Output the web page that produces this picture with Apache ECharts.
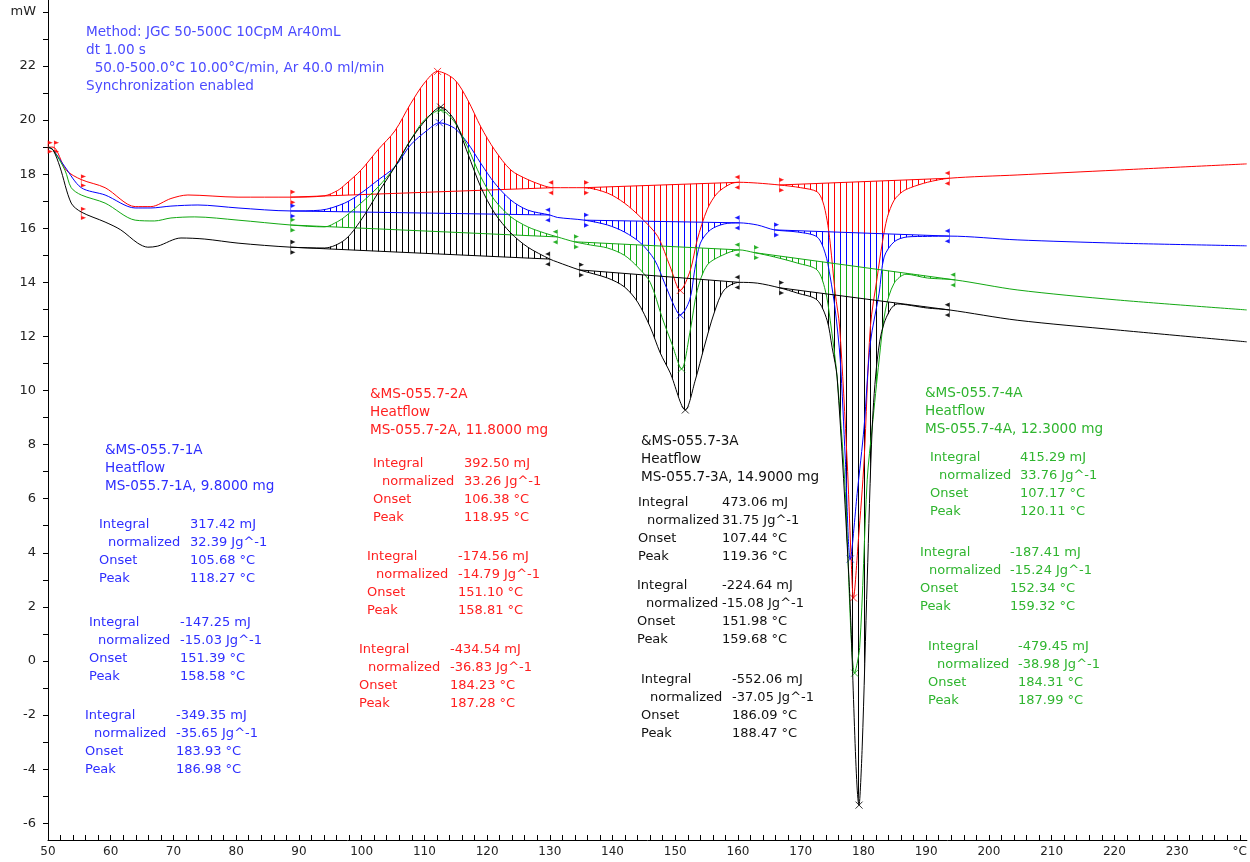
<!DOCTYPE html>
<html><head><meta charset="utf-8">
<script src="https://cdn.jsdelivr.net/npm/echarts/dist/echarts.min.js"></script>
<style>html,body{margin:0;padding:0;background:#fff}#c{width:1250px;height:862px}</style>
</head><body><div id="c"></div>
<script>
// ---------- DATA ----------
const redCurve = [[50,19],[50.8,19],[52.9,18.15],[55.3,17.8],[59.1,17.5],[63.9,16.8],[66.4,16.8],[69.6,17.1],[72.3,17.23],[80.3,17.15],[88.7,17.15],[94.1,17.2],[96.2,17.4],[97.3,17.6],[99.9,18.15],[102.6,18.9],[105.3,19.6],[107.8,20.6],[110,21.37],[112.1,21.8],[114.8,21.5],[116.9,20.75],[119,19.75],[121.2,18.9],[123.8,18.15],[126.5,17.8],[129.2,17.56],[130.5,17.5],[135.5,17.5],[139.2,17.3],[141.9,16.93],[144.5,16.4],[147.2,15.7],[149.2,14.57],[150.8,13.7],[152.4,14.45],[153.5,15.57],[155.1,16.7],[156.7,17.3],[158.8,17.64],[160.2,17.7],[163.1,17.67],[166.6,17.6],[170,17.5],[172.6,17.35],[173.5,17.0],[174.2,16.3],[174.7,15.45],[175.5,13.6],[176.2,12.35],[177.4,7.4],[178,4.0],[178.4,2.33],[179.2,4.5],[180.1,7.4],[181.1,12.35],[182.2,14.2],[183,15.45],[183.8,16.4],[184.9,17.04],[186.2,17.35],[187.5,17.5],[190.2,17.7],[193.7,17.85],[204.5,17.97],[220.4,18.15],[241.1,18.38]];
const blueCurve = [[50,19],[50.8,18.9],[52.7,18.27],[55.3,17.5],[59.1,17.23],[63.9,16.75],[66.4,16.75],[69.6,16.82],[73.9,16.86],[80.3,16.75],[88.7,16.64],[93.5,16.67],[97.3,16.93],[99.9,17.3],[102.6,17.78],[105.3,18.27],[107.8,19.08],[110.5,19.63],[112.4,19.9],[114.8,19.7],[116.9,19.15],[119,18.4],[121.2,17.67],[123.8,17.04],[126.5,16.67],[130,16.49],[131.2,16.4],[135.5,16.3],[139.2,16.12],[141.9,15.86],[144.5,15.45],[146.7,14.83],[148.3,13.97],[149.9,13.09],[150.8,12.79],[152.3,13.35],[153.1,14.46],[154,15.45],[155.6,15.94],[157.8,16.16],[160.2,16.2],[163.1,16.12],[165.8,15.94],[169.5,15.86],[172.6,15.68],[173.9,15.08],[174.7,14.2],[175.5,12.98],[176.3,11.13],[177.1,7.5],[177.9,3.77],[179,6.2],[180.1,8.65],[181.1,11.76],[182.5,13.6],[183.3,14.94],[184.9,15.5],[187,15.68],[190.2,15.7],[193.7,15.71],[204.5,15.57],[220.4,15.45],[241.1,15.35]];
const greenCurve = [[50,19],[50.8,18.9],[52.7,18.15],[53.7,17.5],[55.3,17.23],[59.1,16.93],[63.9,16.3],[67,16.27],[69.6,16.38],[73.4,16.42],[80.3,16.3],[88.7,16.12],[94.1,16.05],[96.2,16.25],[97.3,16.42],[99.9,16.93],[102.6,17.52],[105.3,18.27],[107.8,19.26],[110,20],[112.6,20.37],[114.8,19.93],[116.9,19],[119,17.9],[121.2,17.04],[123.8,16.42],[126.5,16.05],[129.2,15.82],[131.2,15.68],[133.9,15.5],[136.5,15.38],[139.2,15.27],[141.9,15],[144,14.57],[146,14],[147.9,12.7],[149.5,11.7],[151,10.8],[152.4,12.24],[153.5,13.7],[155.1,14.64],[157.5,15],[160.2,15.2],[162.6,15.1],[165.8,14.94],[169.5,14.71],[172.6,14.46],[173.9,13.72],[174.7,12.6],[175.8,10.5],[177,6.7],[178.6,-0.45],[179.4,0.5],[180.6,6.7],[181.4,8.65],[182.5,11.13],[183.5,12.98],[184.9,13.97],[186.8,14.3],[190.2,14.16],[194.6,14.09],[204.5,13.72],[220.4,13.35],[241.1,12.98]];
const blackCurve = [[50,19],[50.8,18.9],[51.9,18.27],[53.7,16.93],[55.3,16.6],[59.1,16.23],[61.6,15.94],[64.3,15.45],[65.9,15.3],[67.5,15.34],[71.2,15.64],[75,15.6],[80.3,15.45],[88.7,15.3],[94.1,15.27],[97.3,15.57],[99.9,16.3],[102.6,17.3],[105.3,18.27],[107.8,19.26],[110.5,20.08],[112.6,20.48],[114.8,20],[116.9,18.78],[119,17.52],[121.2,16.56],[123.8,15.82],[126.5,15.3],[130,14.86],[131.2,14.75],[134.7,14.46],[139.2,14.16],[141.9,13.83],[144,13.27],[146,12.35],[147.6,11.39],[149.2,10.65],[151.6,9.28],[153.2,10.39],[154.6,11.6],[156.2,12.87],[157.8,13.72],[160.2,14],[163.1,13.97],[166.6,13.8],[169.5,13.6],[172.6,13.35],[174.2,12.6],[175,11.6],[175.8,10.5],[177.7,3],[179.3,-5.33],[179.8,-3.18],[180.6,2.99],[181.4,8.65],[182.2,11.13],[183.3,12.5],[185.4,13.2],[190.2,13.05],[193.7,12.98],[204.5,12.6],[220.4,12.24],[241.1,11.8]];

// integration baselines: [xStart, yStart, xEnd, yEnd]
const redBase = [[88.7,17.15,130.5,17.5],[135.5,17.5,160.2,17.7],[166.6,17.6,193.7,17.85]];
const blueBase = [[88.7,16.64,130,16.49],[135.5,16.3,160.2,16.2],[165.8,15.94,193.7,15.71]];
const greenBase = [[88.7,16.12,131.2,15.68],[133.9,15.5,160.2,15.2],[162.6,15.1,194.6,14.09]];
const blackBase = [[88.7,15.3,130,14.86],[134.7,14.46,160.2,14.0],[166.6,13.8,193.7,12.98]];

// peak markers
const redPeaks = [[112.1,21.8],[150.8,13.7],[178.4,2.33]];
const bluePeaks = [[112.4,19.9],[150.8,12.79],[177.9,3.77]];
const greenPeaks = [[112.6,20.37],[151,10.8],[178.6,-0.45]];
const blackPeaks = [[112.6,20.48],[151.6,9.28],[179.3,-5.33]];
const redExtraMarks = [[50,19.0],[51,19.0],[55.3,17.75],[55.3,16.55]];

// axis ticks / labels
const xTickLabels = [50,60,70,80,90,100,110,120,130,140,150,160,170,180,190,200,210,220,230,240];
const yTickLabels = [-6,-4,-2,0,2,4,6,8,10,12,14,16,18,20,22,24];
const xUnit = '°C', yUnit = 'mW';

// texts
const methodText = ['Method: JGC 50-500C 10CpM Ar40mL','dt 1.00 s','  50.0-500.0°C 10.00°C/min, Ar 40.0 ml/min','Synchronization enabled'];
const resultLabels = ['Integral','normalized','Onset','Peak'];
const blueHeader = ['&MS-055.7-1A','Heatflow','MS-055.7-1A, 9.8000 mg'];
const blueResults = [['317.42 mJ','32.39 Jg^-1','105.68 °C','118.27 °C'],['-147.25 mJ','-15.03 Jg^-1','151.39 °C','158.58 °C'],['-349.35 mJ','-35.65 Jg^-1','183.93 °C','186.98 °C']];
const redHeader = ['&MS-055.7-2A','Heatflow','MS-055.7-2A, 11.8000 mg'];
const redResults = [['392.50 mJ','33.26 Jg^-1','106.38 °C','118.95 °C'],['-174.56 mJ','-14.79 Jg^-1','151.10 °C','158.81 °C'],['-434.54 mJ','-36.83 Jg^-1','184.23 °C','187.28 °C']];
const blackHeader = ['&MS-055.7-3A','Heatflow','MS-055.7-3A, 14.9000 mg'];
const blackResults = [['473.06 mJ','31.75 Jg^-1','107.44 °C','119.36 °C'],['-224.64 mJ','-15.08 Jg^-1','151.98 °C','159.68 °C'],['-552.06 mJ','-37.05 Jg^-1','186.09 °C','188.47 °C']];
const greenHeader = ['&MS-055.7-4A','Heatflow','MS-055.7-4A, 12.3000 mg'];
const greenResults = [['415.29 mJ','33.76 Jg^-1','107.17 °C','120.11 °C'],['-187.41 mJ','-15.24 Jg^-1','152.34 °C','159.32 °C'],['-479.45 mJ','-38.98 Jg^-1','184.31 °C','187.99 °C']];

// ---------- STYLE / BUILD ----------
const FONT = '13px "DejaVu Sans"';
const FONT_HEAD = '13.6px "DejaVu Sans"';
const LINE = {red:'#ff0000', blue:'#0000ff', green:'#12a812', black:'#000000'};
const TXT = {red:'#ff2020', blue:'#2e2eff', green:'#2fb52f', black:'#111111', method:'#4b4bff'};

function hatch(color){
  const c=document.createElement('canvas'); c.width=6; c.height=2;
  const g=c.getContext('2d'); g.fillStyle=color; g.fillRect(0,0,1,2);
  return {image:c, repeat:'repeat'};
}
function polyOf(curve, b){
  const pts=[[b[0],b[1]]];
  curve.forEach(p=>{ if(p[0]>=b[0] && p[0]<=b[2]) pts.push(p); });
  pts.push([b[2],b[3]]);
  return pts;
}
const startSym = 'path://M-3 0 M0 0 L0 16 M0 1 L3 2.5 L0 4 Z M0 12 L3 13.5 L0 15 Z M3 0';
const endSym = 'path://M3 0 M0 0 L0 16 M0 1 L-3 2.5 L0 4 Z M0 12 L-3 13.5 L0 15 Z M-3 0';
const crossSym = 'path://M0 0 L8 8 M8 0 L0 8';

function seriesFor(key, curve, bases, peaks){
  const col = LINE[key];
  const polys = bases.map(b=>polyOf(curve,b));
  const pat = hatch(col);
  const out = [];
  out.push({
    type:'custom', coordinateSystem:'cartesian2d', silent:true, animation:false,
    data: polys.map(p=>[p[0][0],p[0][1]]), encode:{x:0,y:1},
    renderItem:(params,api)=>({type:'polygon', shape:{points:polys[params.dataIndex].map(pt=>api.coord(pt)), smooth:0.25}, style:{fill:pat, stroke:null}})
  });
  bases.forEach(b=>out.push({type:'line', data:[[b[0],b[1]],[b[2],b[3]]], symbol:'none', silent:true, animation:false, lineStyle:{color:col,width:1}}));
  out.push({type:'line', data:curve, symbol:'none', smooth:0.3, silent:true, animation:false, lineStyle:{color:col,width:1}});
  out.push({type:'scatter', data:bases.map(b=>[b[0],b[1]]), symbol:startSym, symbolSize:[6,15], silent:true, animation:false, itemStyle:{color:col, borderColor:col, borderWidth:1}});
  out.push({type:'scatter', data:bases.map(b=>[b[2],b[3]]), symbol:endSym, symbolSize:[6,15], silent:true, animation:false, itemStyle:{color:col, borderColor:col, borderWidth:1}});
  out.push({type:'scatter', data:peaks, symbol:crossSym, symbolSize:7, silent:true, animation:false, itemStyle:{color:'none', borderColor:col, borderWidth:1}});
  return out;
}

const series = [].concat(
  seriesFor('red', redCurve, redBase, redPeaks),
  [{type:'scatter', data:redExtraMarks, symbol:startSym, symbolSize:[6,13], silent:true, animation:false, itemStyle:{color:LINE.red, borderColor:LINE.red, borderWidth:1}}],
  seriesFor('blue', blueCurve, blueBase, bluePeaks),
  seriesFor('green', greenCurve, greenBase, greenPeaks),
  seriesFor('black', blackCurve, blackBase, blackPeaks)
);

// texts
const elements = [];
function txt(x,y,s,color,font){ elements.push({type:'text', x:x, y:y, silent:true, style:{text:s, fill:color, font:font||FONT, verticalAlign:'middle'}}); }
methodText.forEach((s,i)=>txt(86, 32+i*18, s, TXT.method, FONT_HEAD));
function block(key, header, hpos, results, bpos){
  const c = TXT[key];
  header.forEach((s,i)=>txt(hpos[0], hpos[1]+i*18, s, c, FONT_HEAD));
  results.forEach((r,k)=>{
    const [bx,by,off] = bpos[k];
    resultLabels.forEach((lab,i)=>{
      txt(bx + (i===1?9:0), by+i*18, lab, c);
      txt(bx+off, by+i*18, r[i], c);
    });
  });
}
block('blue', blueHeader, [105,450], blueResults, [[99,525,91],[89,623,91],[85,716,91]]);
block('red', redHeader, [370,394], redResults, [[373,464,91],[367,557,91],[359,650,91]]);
block('black', blackHeader, [641,441], blackResults, [[638,503,84],[637,586,85],[641,680,91]]);
block('green', greenHeader, [925,393], greenResults, [[930,458,90],[920,553,90],[928,647,90]]);

const xTicks = []; for (let v=50; v<=240; v+=2) xTicks.push(v);
const yTicks = []; for (let v=-6; v<=24; v+=1) yTicks.push(v);

const chart = echarts.init(document.getElementById('c'), null, {renderer:'canvas'});
chart.setOption({
  animation:false,
  backgroundColor:'#ffffff',
  grid:{left:48, right:0, top:0, bottom:22, containLabel:false},
  xAxis:{type:'value', min:50, max:241.13,
    axisLine:{onZero:false, lineStyle:{color:'#000', width:1}},
    axisTick:{inside:true, length:5, customValues:xTicks, lineStyle:{color:'#000'}},
    axisLabel:{customValues:xTickLabels, margin:6, color:'#222', fontFamily:'DejaVu Sans', fontSize:12,
      formatter:v=> v===240 ? xUnit : String(v)},
    splitLine:{show:false}},
  yAxis:{type:'value', min:-6.62, max:24.44,
    axisLine:{show:true, onZero:false, lineStyle:{color:'#000', width:1}},
    axisTick:{show:true, inside:false, length:5, customValues:yTicks, lineStyle:{color:'#000'}},
    axisLabel:{customValues:yTickLabels, margin:12, color:'#222', fontFamily:'DejaVu Sans', fontSize:13,
      formatter:v=> v===24 ? yUnit : String(v)},
    splitLine:{show:false}},
  series: series,
  graphic:{elements: elements}
});
</script>
</body></html>
